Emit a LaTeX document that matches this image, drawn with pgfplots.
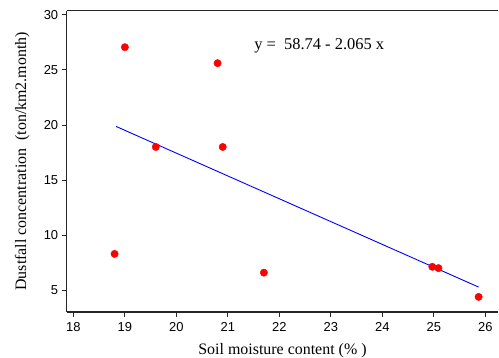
\documentclass[border=0pt]{standalone}
\usepackage{fontspec}
\setmainfont{Liberation Serif}
\newfontfamily\tickfont{Liberation Sans}
\usepackage{pgfplots}
\pgfplotsset{compat=1.18}
\begin{document}
\begin{tikzpicture}
\path[use as bounding box] (-66.7bp,-46bp) rectangle (432.3bp,312bp);
\begin{axis}[
  at={(0,0)}, anchor=south west,
  scale only axis,
  width=431.5bp, height=301.3bp,
  xmin=17.87, xmax=26.25,
  ymin=3.03, ymax=30.36,
  axis x line*=box, axis y line*=left,
  axis line style={-, line width=1.1bp, black!85},
  every outer y axis line/.append style={-},
  tick align=outside, tick pos=left,
  major tick length=5bp,
  tick style={black!85, line width=0.8bp},
  xtick={18,19,...,26},
  ytick={5,10,...,30},
  /pgf/number format/assume math mode=true,
  ticklabel style={font=\tickfont\fontsize{13}{13}\selectfont},
  xticklabel style={yshift=-2bp},
  xlabel={Soil moisture content (\% )},
  ylabel={Dustfall concentration \ (ton/km2.month)},
  xlabel style={at={(axis description cs:0.5,-0.1394)}, anchor=base, font=\fontsize{16}{16}\selectfont},
  ylabel style={at={(axis description cs:-0.0943,0.5)}, anchor=base, rotate=0, font=\fontsize{16}{16}\selectfont},
  clip=false,
]
\addplot[blue, line width=0.9bp] coordinates {(18.83,19.86) (25.87,5.29)};
\addplot[only marks, mark=*, mark size=3.7bp, mark options={draw=red, fill=red}] coordinates {
  (19.0,27.05) (20.8,25.6) (19.6,18.0) (20.9,18.0) (18.8,8.3)
  (21.7,6.6) (24.97,7.13) (25.09,7.01) (25.87,4.4)
};
\node[anchor=base west, font=\fontsize{16.5}{16.5}\selectfont, inner sep=0pt] at (axis cs:21.51,26.84) {y = \ 58.74 - 2.065 x};
\end{axis}
\end{tikzpicture}
\end{document}
